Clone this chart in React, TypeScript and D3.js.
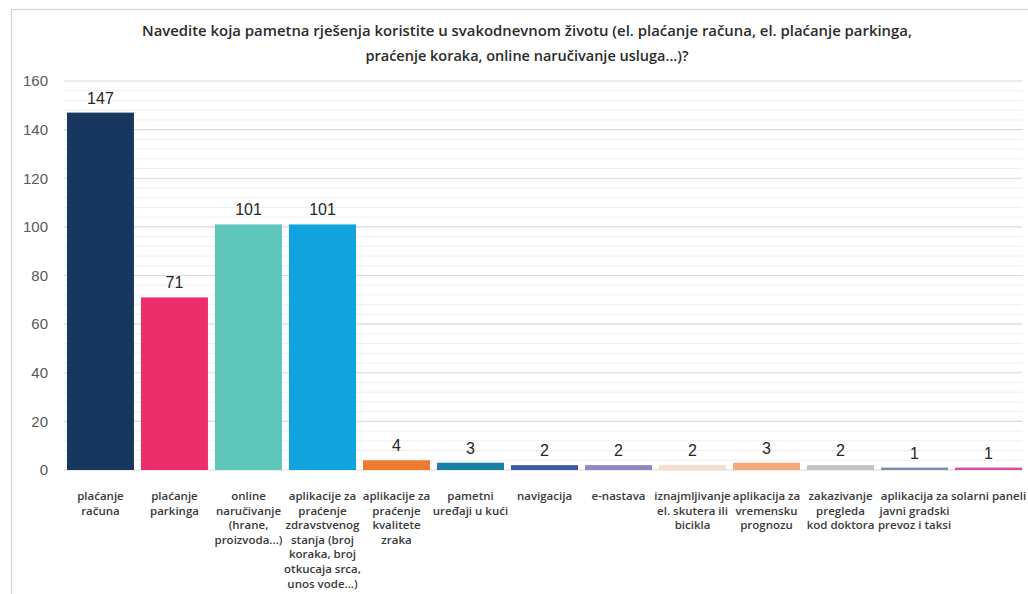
import React from "react";
import * as d3 from "d3";

// Survey answers: smart solutions used in everyday life
const categories: string[][] = [
  ["plaćanje", "računa"],
  ["plaćanje", "parkinga"],
  ["online", "naručivanje", "(hrane,", "proizvoda...)"],
  ["aplikacije za", "praćenje", "zdravstvenog", "stanja (broj", "koraka, broj", "otkucaja srca,", "unos vode...)"],
  ["aplikacije za", "praćenje", "kvalitete", "zraka"],
  ["pametni", "uređaji u kući"],
  ["navigacija"],
  ["e-nastava"],
  ["iznajmljivanje", "el. skutera ili", "bicikla"],
  ["aplikacija za", "vremensku", "prognozu"],
  ["zakazivanje", "pregleda", "kod doktora"],
  ["aplikacija za", "javni gradski", "prevoz i taksi"],
  ["solarni paneli"],
];

const values: number[] = [147, 71, 101, 101, 4, 3, 2, 2, 2, 3, 2, 1, 1];

const colors: string[] = [
  "#17375e", "#ec2f6b", "#5ec6bb", "#10a3dd", "#f07b30", "#1a80a8", "#3b59a5",
  "#8e87c3", "#f9dccb", "#f4aa7a", "#c4c4c4", "#7c8fa6", "#d2519c",
];

const yTicks: number[] = [0, 20, 40, 60, 80, 100, 120, 140, 160];

const titleLines: string[] = [
  "Navedite koja pametna rješenja koristite u svakodnevnom životu (el. plaćanje računa, el. plaćanje parkinga,",
  "praćenje koraka, online naručivanje usluga...)?",
];
const titleWidths: number[] = [770, 323];

const W = 1028;
const H = 594;
const plot = { left: 63.5, right: 1025.5, top: 81, bottom: 470 };

export default function App() {
  const idx = categories.map((_, i) => String(i));
  const x = d3.scaleBand<string>().domain(idx).range([plot.left, plot.right]).paddingInner(0.095).paddingOuter(0.047);
  const y = d3.scaleLinear().domain([0, 160]).range([plot.bottom, plot.top]);
  const minorTicks = d3.range(0, 161, 4).filter((v) => v % 20 !== 0);
  const catFont = "'Century Gothic', 'URW Gothic', 'Open Sans', sans-serif";

  return (
    <svg width={W} height={H} style={{ position: "absolute", left: 0, top: 0, background: "#fff" }}>
      <rect x={11.5} y={9.5} width={W + 10} height={H + 10} fill="#fff" stroke="#d6d6d6" strokeWidth={1.2} />

      {titleLines.map((t, i) => (
        <text
          key={i}
          x={527}
          y={36 + i * 25}
          textAnchor="middle"
          fontFamily={catFont}
          fontSize={14}
          fontWeight={600}
          fill="#2b2b2b"
          textLength={titleWidths[i]}
          lengthAdjust="spacingAndGlyphs"
        >
          {t}
        </text>
      ))}

      {minorTicks.map((v) => (
        <line key={"m" + v} x1={plot.left} x2={plot.right - 3} y1={y(v)} y2={y(v)} stroke="#eeeeee" strokeWidth={1} />
      ))}
      {yTicks.map((v) => (
        <line key={"g" + v} x1={plot.left} x2={plot.right - 3} y1={y(v)} y2={y(v)} stroke="#dadada" strokeWidth={1.2} />
      ))}

      {yTicks.map((v) => (
        <text
          key={"t" + v}
          x={48}
          y={y(v)}
          dy="0.35em"
          textAnchor="end"
          fontFamily="'Liberation Sans', Arial, sans-serif"
          fontSize={15}
          fill="#595959"
        >
          {v}
        </text>
      ))}

      {values.map((v, i) => {
        const bx = x(String(i))!;
        return (
          <g key={"b" + i}>
            <rect x={bx} y={y(v)} width={x.bandwidth()} height={y(0) - y(v)} fill={colors[i]} />
            <text
              x={bx + x.bandwidth() / 2}
              y={y(v) - 9}
              textAnchor="middle"
              fontFamily="'Liberation Sans', Arial, sans-serif"
              fontSize={16}
              fill="#262626"
            >
              {v}
            </text>
          </g>
        );
      })}

      {categories.map((lines, i) => (
        <text
          key={"c" + i}
          x={x(String(i))! + x.bandwidth() / 2}
          textAnchor="middle"
          fontFamily={catFont}
          fontSize={11.5}
          fontWeight={600}
          fill="#3a3a3a"
        >
          {lines.map((ln, j) => (
            <tspan key={j} x={x(String(i))! + x.bandwidth() / 2} y={500 + j * 14.6}>
              {ln}
            </tspan>
          ))}
        </text>
      ))}
    </svg>
  );
}
